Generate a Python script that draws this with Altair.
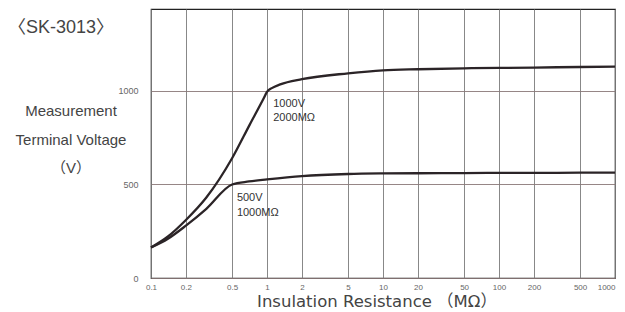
import altair as alt
import pandas as pd

# ---- data ----
x_1000v = [0.1, 0.14, 0.2, 0.3, 0.5, 0.71, 0.93, 1.0, 1.1, 1.3, 2, 5, 10, 20, 50, 100, 200, 500, 1000]
v_1000v = [163, 222, 310, 430, 640, 820, 957, 995, 1015, 1035, 1063, 1094, 1110, 1116, 1121, 1123, 1125, 1128, 1130]

x_500v = [0.1, 0.14, 0.2, 0.3, 0.5, 0.7, 1, 2, 5, 10, 20, 50, 100, 200, 500, 1000]
v_500v = [163, 210, 280, 370, 500, 516, 527, 545, 556, 559, 560, 561, 562, 562, 563, 563]

x_ticks = [0.1, 0.2, 0.5, 1, 2, 5, 10, 20, 50, 100, 200, 500, 1000]
y_ticks = [0, 500, 1000]

label_x = [1.13, 1.13, 0.55, 0.55]
label_y = [930, 856, 428, 348]
label_text = ["1000V", "2000MΩ", "500V", "1000MΩ"]

chart_title = "〈SK-3013〉"
y_title_lines = ["Measurement", "Terminal Voltage", "（V）"]
x_title = "Insulation Resistance （MΩ）"

df = pd.concat([
    pd.DataFrame({"r": x_1000v, "v": v_1000v, "s": "1000V"}),
    pd.DataFrame({"r": x_500v, "v": v_500v, "s": "500V"}),
])
labels = pd.DataFrame({"r": label_x, "v": label_y, "t": label_text})

W, H = 464, 269
xscale = alt.Scale(type="log", domain=[0.1, 1000], nice=False)
yscale = alt.Scale(domain=[0, 1438], nice=False)

x_enc = alt.X("r:Q", scale=xscale, axis=alt.Axis(
    values=x_ticks, format="~g", title=None, grid=True, gridColor="#7a7a7a",
    gridWidth=0.9, ticks=False, domain=False, labelFontSize=8, labelColor="#666",
    labelPadding=5, labelFont="Liberation Sans", labelFlush=False,
    labelAlign={"condition": {"test": "datum.value >= 1000", "value": "right"}, "value": "center"}))
y_enc = alt.Y("v:Q", scale=yscale, axis=alt.Axis(
    values=y_ticks, format="d", title=None, grid=True, gridColor="#8a7878", gridWidth=0.9,
    ticks=False, domain=False, labelFontSize=9, labelColor="#666",
    labelPadding=13, labelFont="Liberation Sans"))

lines = alt.Chart(df).mark_line(strokeWidth=2.3, interpolate="monotone").encode(
    x=x_enc, y=y_enc,
    color=alt.Color("s:N", scale=alt.Scale(range=["#2b2427", "#2b2427"]), legend=None),
    detail="s:N",
)

curve_labels = alt.Chart(labels).mark_text(
    align="left", baseline="middle", fontSize=11, color="#333", font="Liberation Sans"
).encode(x=alt.X("r:Q", scale=xscale), y=alt.Y("v:Q", scale=yscale), text="t:N")

title_df = pd.DataFrame({"t": [chart_title]})
title_mark = alt.Chart(title_df).mark_text(
    align="left", baseline="middle", fontSize=18, color="#444",
    font="Liberation Sans, Noto Sans CJK JP"
).encode(x=alt.value(-143), y=alt.value(19), text="t:N")

ytitle_marks = []
for line_text, ypix in zip(y_title_lines, [102, 131, 159]):
    ytitle_marks.append(
        alt.Chart(pd.DataFrame({"t": [line_text]})).mark_text(
            align="center", baseline="middle", fontSize=15, color="#444",
            font="Liberation Sans, Noto Sans CJK JP"
        ).encode(x=alt.value(-80), y=alt.value(ypix), text="t:N")
    )

xtitle_df = pd.DataFrame({"t": [x_title]})
xtitle_mark = alt.Chart(xtitle_df).mark_text(
    align="center", baseline="middle", fontSize=16.5, color="#444",
    font="DejaVu Sans, Noto Sans CJK JP"
).encode(x=alt.value(226), y=alt.value(293), text="t:N")

chart = alt.layer(lines, curve_labels, title_mark, *ytitle_marks, xtitle_mark).properties(
    width=W, height=H,
    autosize=alt.AutoSizeParams(type="none"),
    padding={"left": 143, "top": 1, "right": 2, "bottom": 32},
    background="white",
).configure_view(stroke="#222", strokeWidth=1.2)

chart.save("out.html", embed_options={"renderer": "svg", "actions": False})
